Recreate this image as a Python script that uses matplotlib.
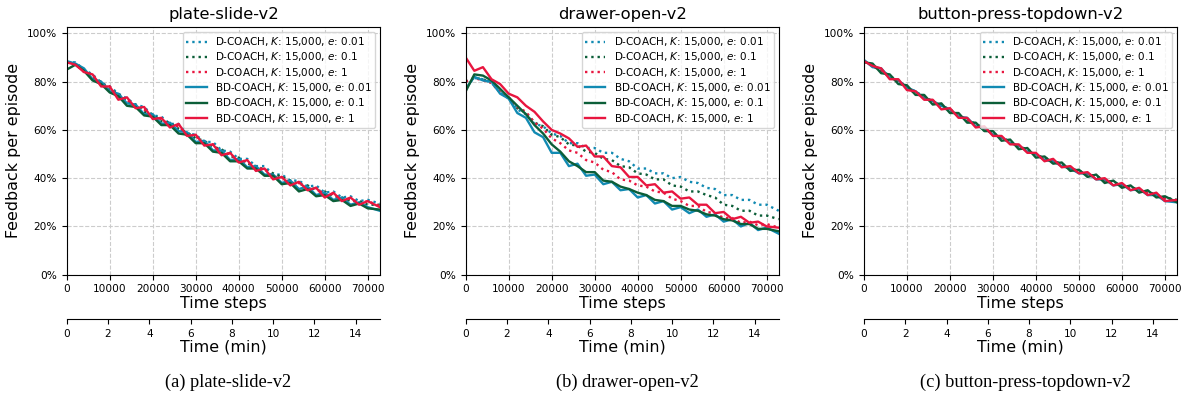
import matplotlib
matplotlib.use("Agg")
import matplotlib.pyplot as plt
from matplotlib.ticker import PercentFormatter, MultipleLocator, FixedLocator

# sample positions (time steps)
steps = [2000 * i for i in range(36)] + [72800]

# feedback per episode (%) -- plate-slide-v2
plate_d001 = [88, 88, 85, 83, 79.5, 78, 75, 73, 70.5, 69.5,
              66, 65.5, 62.5, 62.5, 58.5, 58, 55, 55, 51.5, 51,
              48, 48, 45, 45, 41.5, 41.5, 39, 39, 36.5, 37,
              34, 34.5, 32, 32.5, 30.5, 31, 29.5]
plate_d01 = [88, 87, 85, 81.5, 80, 76.5, 75, 71.5, 70.5, 67.5,
             66.5, 63.5, 63, 60.5, 59, 56.5, 55.5, 53, 52, 49,
             48.5, 46, 45, 43.5, 42, 40.5, 39, 37.5, 37, 35,
             34.5, 32.5, 32, 30.5, 30.5, 29, 29]
plate_d1 = [88, 87.5, 84, 82.5, 79, 78, 73.5, 72.5, 69.5, 68.5,
            65, 64.5, 62, 61.5, 57.5, 57.5, 54, 54, 50.5, 50,
            47, 47, 44, 44, 40.5, 40.5, 38, 38, 35.5, 36,
            33, 33.5, 31, 31.5, 29.5, 30.5, 28.5]
plate_bd001 = [88.5, 87.5, 85.5, 81, 80, 76, 75, 71, 70.5, 66.5,
               66.5, 62.5, 63, 59.5, 59, 55, 55.5, 51.5, 51.5, 47.5,
               48, 44.5, 45, 41.5, 41.5, 38, 39, 35.5, 36.5, 33,
               34, 31, 32, 29, 30, 28, 26.5]
plate_bd01 = [85, 87, 84.5, 80.5, 79, 75.5, 74, 70, 69.5, 66,
              65.5, 62, 62, 58.5, 58, 54.5, 54.5, 51, 50.5, 47,
              47, 44, 44, 41, 41, 37.5, 38, 34.5, 35.5, 32.5,
              33, 30.5, 31, 28.5, 29.5, 27.5, 27]
plate_bd1 = [88, 87, 84, 83, 78, 78, 72.5, 73.5, 69, 69.5,
             64.5, 65, 61, 62.5, 57.5, 58, 53.5, 54, 49.5, 50.5,
             46.5, 47.5, 43, 44, 39.5, 40.5, 37, 38.5, 35, 36,
             32, 34, 30.5, 32, 29, 30.5, 28]

# drawer-open-v2
drawer_d001 = [78, 81.5, 81, 79.5, 75.5, 73, 68.5, 66.5, 62.5, 61.5,
               58.5, 57.5, 54.5, 54.5, 52.5, 52.5, 50.5, 50.5, 48, 47,
               44, 44, 42, 42, 40, 40.5, 38.5, 38, 36, 35.5,
               33, 33, 31, 31, 29, 29, 26.5]
drawer_d01 = [80, 81.5, 81, 79.5, 75.5, 73, 69, 67, 63, 61.5,
              58, 57, 54, 53.5, 51, 50.5, 48, 47.5, 45, 44.5,
              42, 41.5, 39.5, 39.5, 37, 36.5, 34.5, 34.5, 33, 32,
              29, 28.5, 26.5, 26.5, 24.5, 24.5, 23]
drawer_d1 = [80, 81.5, 80.5, 79.5, 75.5, 73.5, 69.5, 67.5, 63, 60.5,
             56.5, 54.5, 51.5, 50.5, 47.5, 46.5, 43.5, 42.5, 39.5, 39,
             37, 36.5, 34.5, 34, 31.5, 30.5, 28.5, 28.5, 26, 25.5,
             23.5, 23.5, 21.5, 22, 20.5, 21, 19.5]
drawer_bd001 = [77, 82, 80.5, 80, 75, 73, 67, 65, 59, 57,
                50.5, 50.5, 45, 46, 41, 41.5, 37.5, 38.5, 35, 35.5,
                32, 33, 29.5, 30.5, 27, 28, 25.5, 27, 24, 25,
                22, 23, 20, 21.5, 18.5, 19.5, 17]
drawer_bd01 = [76, 83, 82.5, 80.5, 77, 73.5, 70, 66.5, 62, 58.5,
               54, 51, 47, 45, 42.5, 42.5, 39, 38.5, 36.5, 35.5,
               34, 33, 31, 30.5, 28.5, 28.5, 27, 26.5, 25, 24.5,
               23, 22.5, 21, 21, 19, 19, 18]
drawer_bd1 = [90, 84.5, 86, 81, 79, 75, 73.5, 70, 67.5, 63.5,
              60, 58.5, 56.5, 53, 53.5, 49, 49, 45, 44.5, 40.5,
              40.5, 37, 37.5, 34, 34.5, 31.5, 32, 29, 29, 25.5,
              26, 23, 24, 21.5, 22, 20, 19.5]

# button-press-topdown-v2
button_d001 = [88.5, 87, 84.5, 82.5, 80, 77.5, 76, 73.5, 72, 69.5,
               68.5, 66, 64, 62.5, 60.5, 58.5, 57, 55, 53.5, 51.5,
               50, 48, 47.5, 45.5, 44, 43, 41.5, 40.5, 39, 38,
               37, 36, 35, 34, 33, 32, 30.5]
button_d01 = [88.5, 86.5, 84.5, 82, 80.5, 77.5, 75.5, 74, 71.5, 70,
              68.5, 66, 64, 62.5, 60.5, 58.5, 57, 55, 53, 52,
              49.5, 48.5, 47, 46, 44, 43, 41.5, 41, 39, 38.5,
              37, 36.5, 35, 34.5, 33, 32, 31]
button_d1 = [88.5, 86.5, 84.5, 82, 80, 77.5, 75, 73.5, 71.5, 70,
             67.5, 66, 64, 62, 60.5, 58.5, 56.5, 55, 53, 51.5,
             49.5, 48, 47, 45.5, 44, 42.5, 41.5, 40.5, 39, 38,
             37, 36, 35, 34, 33, 31.5, 30.5]
button_bd001 = [89, 86, 85.5, 81.5, 80.5, 77.5, 76, 73, 72, 70,
                68.5, 65.5, 65, 61.5, 61, 58, 57, 54.5, 53.5, 51,
                50, 47.5, 47, 45, 44, 42, 42, 39.5, 39.5, 37,
                37.5, 35, 35.5, 33, 33, 30.5, 30]
button_bd01 = [88, 87.5, 83.5, 83, 79, 78.5, 74.5, 74.5, 70.5, 71,
               67, 67, 63, 63, 59.5, 59.5, 55.5, 56, 52, 52.5,
               48.5, 49, 46, 46.5, 43, 43.5, 40.5, 41.5, 38, 39,
               36, 37, 34, 35, 32, 32.5, 30]
button_bd1 = [88.5, 86.5, 85.5, 81, 81, 76.5, 76, 72.5, 72.5, 68.5,
              69, 65, 65, 61, 61.5, 57.5, 57.5, 54, 54, 50.5,
              50.5, 47, 48, 44.5, 45, 42, 42.5, 39.5, 40, 37,
              38, 35, 36, 33, 34, 30.5, 31]

titles = ["plate-slide-v2", "drawer-open-v2", "button-press-topdown-v2"]
captions = ["(a) plate-slide-v2", "(b) drawer-open-v2", "(c) button-press-topdown-v2"]
labels = [r"D-COACH, $K$: 15,000, $e$: 0.01",
          r"D-COACH, $K$: 15,000, $e$: 0.1",
          r"D-COACH, $K$: 15,000, $e$: 1",
          r"BD-COACH, $K$: 15,000, $e$: 0.01",
          r"BD-COACH, $K$: 15,000, $e$: 0.1",
          r"BD-COACH, $K$: 15,000, $e$: 1"]
panels = [
    [plate_d001, plate_d01, plate_d1, plate_bd001, plate_bd01, plate_bd1],
    [drawer_d001, drawer_d01, drawer_d1, drawer_bd001, drawer_bd01, drawer_bd1],
    [button_d001, button_d01, button_d1, button_bd001, button_bd01, button_bd1],
]
min_ticks = [0, 2, 4, 6, 8, 10, 12, 14]

colores = ["#118ab2", "#0b5e38", "#e8163f"]
steps_per_min = 4800

fig = plt.figure(figsize=(11.92, 4.05), dpi=100)
lefts = [0.056, 0.3907, 0.7248]

for k, series in enumerate(panels):
    ax = fig.add_axes([lefts[k], 0.3217, 0.2628, 0.612])
    for i, vals in enumerate(series):
        estilo = ":" if i < 3 else "-"
        ax.plot(steps, vals, linestyle=estilo, color=colores[i % 3],
                lw=1.7, label=labels[i])

    ax.set_xlim(0, 72860)
    ax.set_ylim(0, 102.7)
    ax.xaxis.set_major_locator(MultipleLocator(10000))
    ax.yaxis.set_major_locator(MultipleLocator(20))
    ax.yaxis.set_major_formatter(PercentFormatter(100, decimals=0))
    ax.tick_params(labelsize=7.6, length=3.5)
    ax.grid(True, linestyle="--", color="#cccccc", lw=0.8)
    ax.set_title(titles[k], fontsize=11.8)
    ax.set_xlabel("Time steps", fontsize=11.4, labelpad=1)
    ax.set_ylabel("Feedback per episode", fontsize=11.4)
    ax.legend(loc="upper right", fontsize=7.5, handlelength=2.0,
              borderpad=0.3, labelspacing=0.22, framealpha=0.8)

    # segundo eje con el tiempo en minutos
    sec = ax.secondary_xaxis(-0.178, functions=(lambda s: s / steps_per_min,
                                                 lambda m: m * steps_per_min))
    sec.xaxis.set_major_locator(FixedLocator(min_ticks))
    sec.tick_params(labelsize=7.6, length=3.5)
    sec.set_xlabel("Time (min)", fontsize=11.4, labelpad=1)

    fig.text(lefts[k] + 0.2628 / 2 + 0.004, 0.057, captions[k],
             family="Liberation Serif", fontsize=13.2, ha="center", va="center")

fig.savefig("out.png", dpi=100)
